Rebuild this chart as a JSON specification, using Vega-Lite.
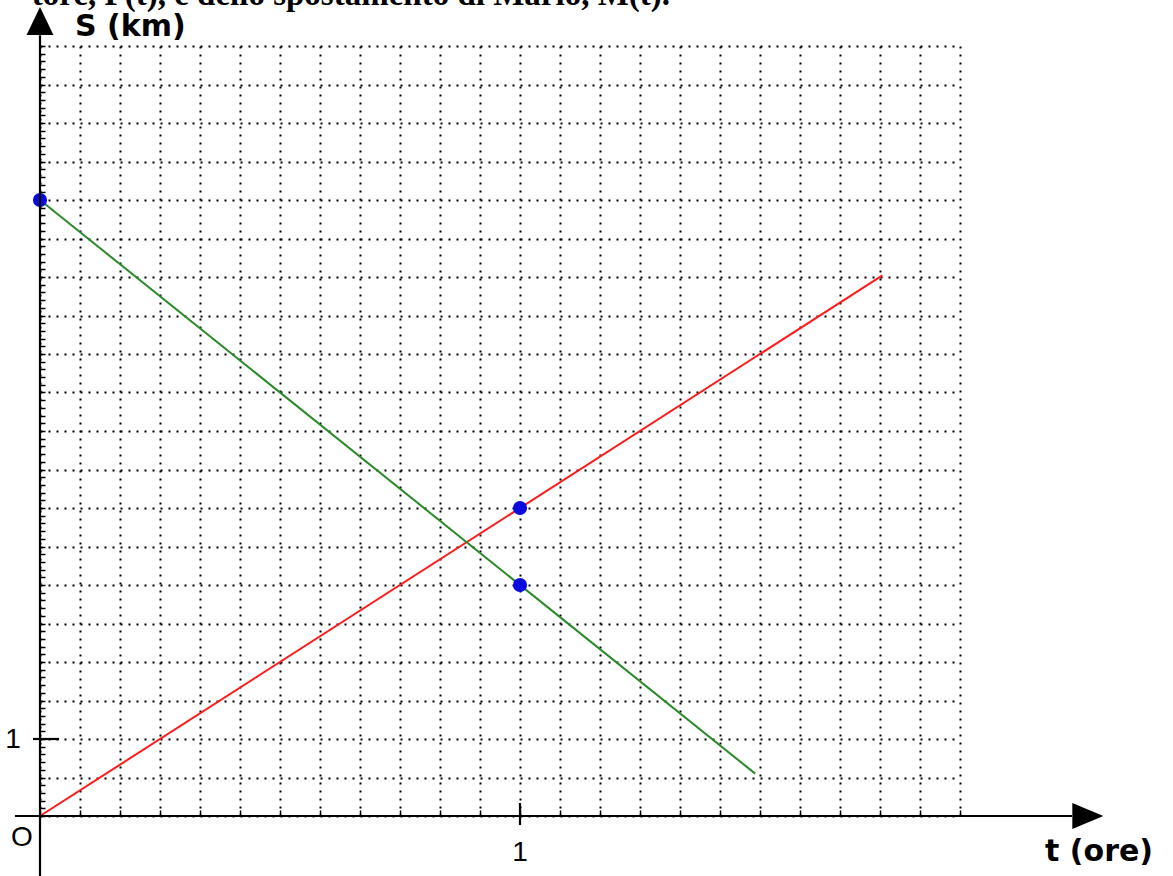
{
  "$schema": "https://vega.github.io/schema/vega-lite/v6.json",
  "width": 920,
  "height": 770,
  "autosize": {"type": "none"},
  "padding": {"left": 40, "top": 46, "right": 213, "bottom": 60},
  "background": "white",
  "config": {"view": {"stroke": null}},
  "datasets": {
    "lines": [
      {"series": "P", "t": 0, "s": 0},
      {"series": "P", "t": 1.755, "s": 7.02},
      {"series": "M", "t": 0, "s": 8},
      {"series": "M", "t": 1.49, "s": 0.55}
    ],
    "points": [
      {"t": 0, "s": 8},
      {"t": 1, "s": 4},
      {"t": 1, "s": 3}
    ],
    "rules": [
      {"part": "x axis", "t": -0.052, "s": 0, "t2": 2.15, "s2": 0},
      {"part": "y axis", "t": 0, "s": -0.78, "t2": 0, "s2": 10.14},
      {"part": "y tick 1", "t": -0.0146, "s": 1, "t2": 0.0396, "s2": 1},
      {"part": "x tick 1", "t": 1, "s": -0.117, "t2": 1, "s2": 0.169}
    ],
    "bold": [
      {"label": "S (km)", "t": 0.0729, "s": 10.247},
      {"label": "t (ore)", "t": 2.0938, "s": -0.4675}
    ],
    "thin": [
      {"label": "O", "t": -0.0375, "s": -0.286},
      {"label": "1", "t": -0.05625, "s": 0.987},
      {"label": "1", "t": 1, "s": -0.48}
    ],
    "title": [
      {"label": "tore, P(t), e dello spostamento di Mario, M(t).", "t": 1.3125, "s": 10.53}
    ]
  },
  "resolve": {"axis": {"x": "independent", "y": "independent"}},
  "layer": [
    {
      "data": {"name": "lines"},
      "mark": {"type": "line", "strokeWidth": 2, "clip": false},
      "encoding": {
        "x": {
          "field": "t", "type": "quantitative",
          "scale": {"domain": [0, 1.916667], "nice": false, "zero": false},
          "axis": {
            "orient": "bottom", "title": null, "labels": false, "domain": false,
            "values": [0, 0.083333, 0.166667, 0.25, 0.333333, 0.416667, 0.5, 0.583333, 0.666667, 0.75, 0.833333, 0.916667, 1, 1.083333, 1.166667, 1.25, 1.333333, 1.416667, 1.5, 1.583333, 1.666667, 1.75, 1.833333, 1.916667],
            "grid": true, "gridColor": "#000000", "gridOpacity": 1, "gridWidth": 2, "gridDash": [2, 6],
            "ticks": true, "tickSize": -6, "tickColor": "#000000", "tickWidth": 1.5
          }
        },
        "y": {
          "field": "s", "type": "quantitative",
          "scale": {"domain": [0, 10], "nice": false, "zero": false},
          "axis": {
            "orient": "left", "title": null, "labels": false, "domain": false, "ticks": false,
            "values": [0, 0.5, 1, 1.5, 2, 2.5, 3, 3.5, 4, 4.5, 5, 5.5, 6, 6.5, 7, 7.5, 8, 8.5, 9, 9.5, 10],
            "grid": true, "gridColor": "#000000", "gridOpacity": 1, "gridWidth": 2, "gridDash": [2, 6]
          }
        },
        "color": {
          "field": "series", "type": "nominal",
          "scale": {"domain": ["P", "M"], "range": ["#ff1a1a", "#2a8a2a"]},
          "legend": null
        }
      }
    },
    {
      "data": {"name": "points"},
      "mark": {"type": "point", "filled": true, "shape": "circle", "size": 200, "opacity": 1, "color": "#0a0adc", "clip": false},
      "encoding": {
        "x": {"field": "t", "type": "quantitative", "axis": null},
        "y": {
          "field": "s", "type": "quantitative",
          "axis": {
            "orient": "left", "title": null, "labels": false, "domain": false, "grid": false,
            "ticks": true, "tickSize": -5, "tickColor": "#000000", "tickWidth": 1.5,
            "values": [0, 0.1, 0.2, 0.3, 0.4, 0.5, 0.6, 0.7, 0.8, 0.9, 1, 1.1, 1.2, 1.3, 1.4, 1.5, 1.6, 1.7, 1.8, 1.9, 2, 2.1, 2.2, 2.3, 2.4, 2.5, 2.6, 2.7, 2.8, 2.9, 3, 3.1, 3.2, 3.3, 3.4, 3.5, 3.6, 3.7, 3.8, 3.9, 4, 4.1, 4.2, 4.3, 4.4, 4.5, 4.6, 4.7, 4.8, 4.9, 5, 5.1, 5.2, 5.3, 5.4, 5.5, 5.6, 5.7, 5.8, 5.9, 6, 6.1, 6.2, 6.3, 6.4, 6.5, 6.6, 6.7, 6.8, 6.9, 7, 7.1, 7.2, 7.3, 7.4, 7.5, 7.6, 7.7, 7.8, 7.9, 8, 8.1, 8.2, 8.3, 8.4, 8.5, 8.6, 8.7, 8.8, 8.9, 9, 9.1, 9.2, 9.3, 9.4, 9.5, 9.6, 9.7, 9.8, 9.9, 10]
          }
        }
      }
    },
    {
      "data": {"name": "rules"},
      "mark": {"type": "rule", "color": "#000000", "strokeWidth": 2.2, "clip": false},
      "encoding": {
        "x": {"field": "t", "type": "quantitative", "axis": null},
        "y": {"field": "s", "type": "quantitative", "axis": null},
        "x2": {"field": "t2"},
        "y2": {"field": "s2"}
      }
    },
    {
      "data": {"values": [{"t": 2.183, "s": 0}]},
      "mark": {"type": "point", "filled": true, "opacity": 1, "color": "#000000", "size": 961, "shape": "M-1,-0.84L1,0L-1,0.84Z", "clip": false},
      "encoding": {
        "x": {"field": "t", "type": "quantitative", "axis": null},
        "y": {"field": "s", "type": "quantitative", "axis": null}
      }
    },
    {
      "data": {"values": [{"t": 0, "s": 10.325}]},
      "mark": {"type": "point", "filled": true, "opacity": 1, "color": "#000000", "size": 784, "shape": "M0,-1L0.96,1L-0.96,1Z", "clip": false},
      "encoding": {
        "x": {"field": "t", "type": "quantitative", "axis": null},
        "y": {"field": "s", "type": "quantitative", "axis": null}
      }
    },
    {
      "data": {"name": "bold"},
      "mark": {"type": "text", "align": "left", "baseline": "middle", "font": "DejaVu Sans", "fontWeight": "bold", "fontSize": 30, "color": "#000000", "clip": false},
      "encoding": {
        "x": {"field": "t", "type": "quantitative", "axis": null},
        "y": {"field": "s", "type": "quantitative", "axis": null},
        "text": {"field": "label"}
      }
    },
    {
      "data": {"name": "thin"},
      "mark": {"type": "text", "align": "center", "baseline": "middle", "font": "Liberation Sans", "fontSize": 28, "color": "#000000", "clip": false},
      "encoding": {
        "x": {"field": "t", "type": "quantitative", "axis": null},
        "y": {"field": "s", "type": "quantitative", "axis": null},
        "text": {"field": "label"}
      }
    },
    {
      "data": {"name": "title"},
      "mark": {"type": "text", "align": "right", "baseline": "alphabetic", "font": "Liberation Serif", "fontWeight": "bold", "fontSize": 33, "color": "#000000", "clip": false},
      "encoding": {
        "x": {"field": "t", "type": "quantitative", "axis": null},
        "y": {"field": "s", "type": "quantitative", "axis": null},
        "text": {"field": "label"}
      }
    }
  ]
}
